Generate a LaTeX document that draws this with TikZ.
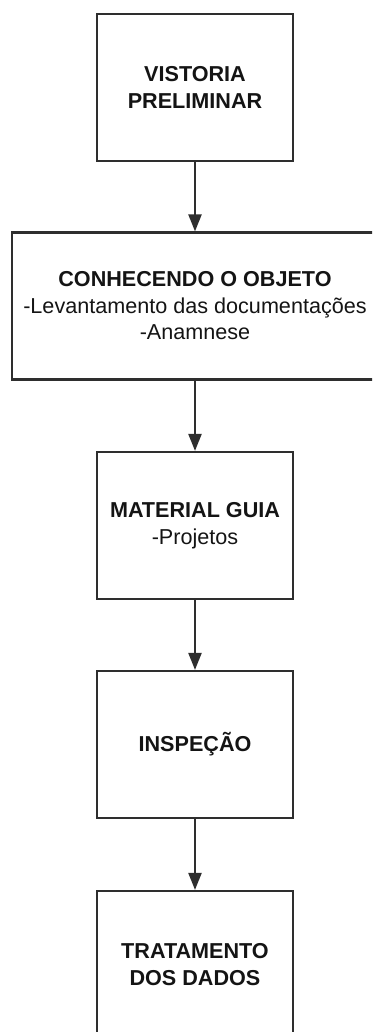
\documentclass[tikz,border=0pt]{standalone}
\usepackage{fontspec}
\setmainfont{Liberation Sans}
\usetikzlibrary{arrows.meta}
\definecolor{linegray}{HTML}{2E2E2E}
\definecolor{textgray}{HTML}{141414}
\begin{document}
\begin{tikzpicture}[x=1pt,y=-1pt,
  stepbox/.style={draw=linegray, line width=2.2pt, rectangle, minimum width=196pt, minimum height=147pt,
    align=center, inner sep=0pt, text=textgray,
    font=\fontsize{21.6}{26.5}\selectfont},
  flow/.style={draw=linegray, line width=2.2pt, -{Triangle[length=17pt,width=13pt]}}]
\useasboundingbox (0,0) rectangle (372,1032);
\clip (0,0) rectangle (372,1032);
\node[stepbox] (b1) at (195,87.5) {\textbf{VISTORIA}\\\textbf{PRELIMINAR}};
\node[stepbox, minimum width=366pt] (b2) at (195,306) {\textbf{CONHECENDO O OBJETO}\\-Levantamento das documentações\\-Anamnese};
\node[stepbox] (b3) at (195,525.5) {\textbf{MATERIAL GUIA}\\-Projetos};
\node[stepbox] (b4) at (195,744.5) {\textbf{INSPEÇÃO}};
\node[stepbox] (b5) at (195,964.5) {\textbf{TRATAMENTO}\\\textbf{DOS DADOS}};
\draw[flow] (b1.south) -- (b2.north);
\draw[flow] (b2.south) -- (b3.north);
\draw[flow] (b3.south) -- (b4.north);
\draw[flow] (b4.south) -- (b5.north);
\end{tikzpicture}
\end{document}
